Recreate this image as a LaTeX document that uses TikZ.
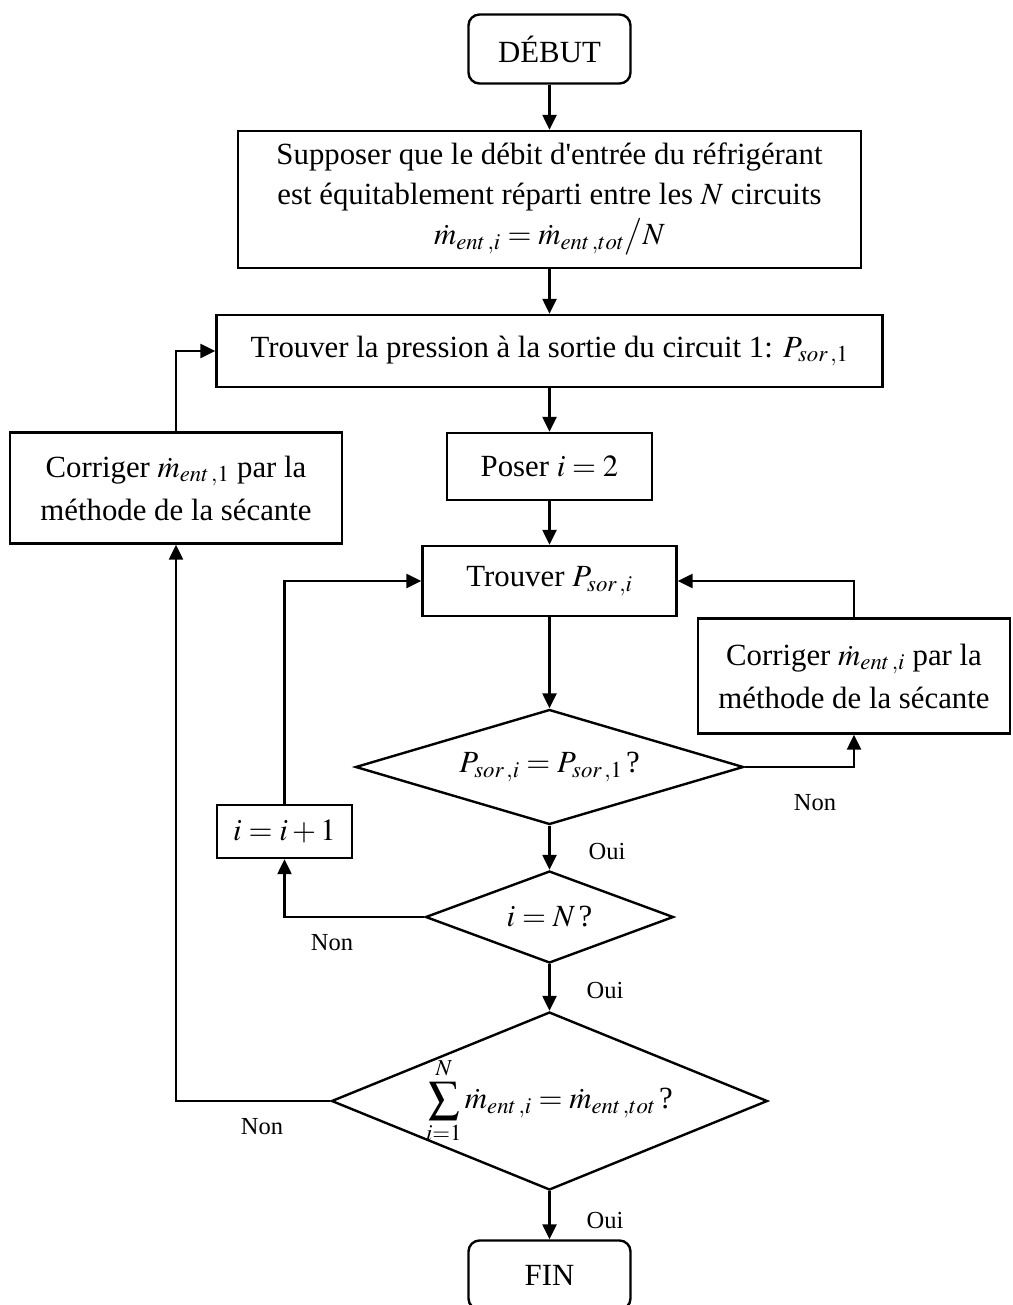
\documentclass[tikz,border=0pt]{standalone}
\usepackage{mathptmx}
\usepackage[no-math]{fontspec}
\setmainfont{Liberation Serif}[Ligatures=TeXOff]
\usetikzlibrary{arrows.meta,shapes.geometric}

\begin{document}
\begin{tikzpicture}[x=1pt,y=-1pt,
  every node/.style={font=\fontsize{30.8}{40}\selectfont},
  proc/.style={draw, line width=2.4pt, inner sep=0pt, align=center},
  term/.style={proc, rounded corners=11pt},
  decision/.style={draw, line width=2.4pt, shape=diamond, inner xsep=-50pt, inner ysep=-18pt},
  flow/.style={line width=2.4pt, -{Triangle[length=15pt,width=14pt]}},
  tag/.style={font=\fontsize{24.5}{28}\selectfont, inner sep=0pt}
]
\useasboundingbox (0,0) rectangle (1012,1305);

% main column
\node[term, minimum width=162pt, minimum height=69pt] (debut) at (549.5,49) {DÉBUT};
\node[proc, minimum width=623pt, minimum height=137pt] (init) at (549.5,199.5)
  {Supposer que le débit d'entrée du réfrigérant\\
   est équitablement réparti entre les $N$ circuits\\
   $\dot{m}_{ent\,,i}=\dot{m}_{ent\,,tot}\big/N$};
\node[proc, minimum width=666pt, minimum height=72pt] (p1) at (549.5,351)
  {Trouver la pression à la sortie du circuit 1: $P_{sor\,,1}$};
\node[proc, minimum width=205pt, minimum height=67pt] (poser) at (549.5,466.5) {Poser $i=2$};
\node[proc, minimum width=254pt, minimum height=70pt] (trp) at (549.5,581) {Trouver $P_{sor\,,i}$};
\node[decision, minimum width=388pt, minimum height=115pt] (d1) at (549.5,767)
  {$P_{sor\,,i}=P_{sor\,,1}\,$?};
\node[decision, minimum width=248pt, minimum height=92pt] (d2) at (549.5,917) {$i=N\,$?};
\node[decision, minimum width=436pt, minimum height=178pt, inner xsep=-100pt, inner ysep=-45pt] (d3) at (549.5,1101)
  {$\displaystyle\sum_{i=1}^{N}\dot{m}_{ent\,,i}=\dot{m}_{ent\,,tot}\,$?};
\node[term, minimum width=162pt, minimum height=69pt] (fin) at (549.5,1275) {FIN};

% side boxes
\node[proc, minimum width=332pt, minimum height=111pt, font=\fontsize{30.8}{43}\selectfont] (cor1) at (176,488)
  {Corriger $\dot{m}_{ent\,,1}$ par la\\ méthode de la sécante};
\node[proc, minimum width=312pt, minimum height=115pt, font=\fontsize{30.8}{43}\selectfont] (cori) at (854,676)
  {Corriger $\dot{m}_{ent\,,i}$ par la\\ méthode de la sécante};
\node[proc, minimum width=135pt, minimum height=53pt] (inc) at (284.5,831.5) {$i=i+1$};

% branch labels
\node[tag] (oui1) at (607,852) {Oui};
\node[tag] (oui2) at (605,990) {Oui};
\node[tag] (oui3) at (605,1220) {Oui};
\node[tag] (non1) at (815,803) {Non};
\node[tag] (non2) at (332,943) {Non};
\node[tag] (non3) at (262,1127) {Non};

% connectors
\draw[flow] (debut) -- (init);
\draw[flow] (init) -- (p1);
\draw[flow] (p1) -- (poser);
\draw[flow] (poser) -- (trp);
\draw[flow] (trp) -- (d1);
\draw[flow] (d1) -- (d2);
\draw[flow] (d2) -- (d3);
\draw[flow] (d3) -- (fin);
\draw[flow] (d1.east) -| (cori.south);
\draw[flow] (cori.north) |- (trp.east);
\draw[flow] (d2.west) -| (inc.south);
\draw[flow] (inc.north) |- (trp.west);
\draw[flow] (d3.west) -| (cor1.south);
\draw[flow] (cor1.north) |- (p1.west);
\end{tikzpicture}
\end{document}
